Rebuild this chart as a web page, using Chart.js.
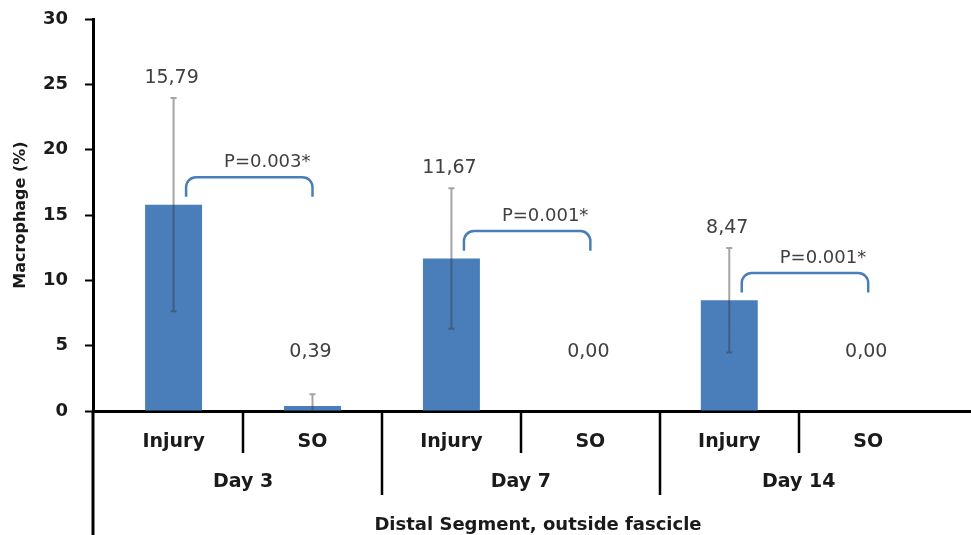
<!DOCTYPE html>
<html lang="en">
<head>
    <meta charset="UTF-8">
    <title>Macrophage - Distal Segment, outside fascicle</title>
    <style>
        html, body { margin: 0; padding: 0; background: #fff; }
        #myChart { display: block; }
    </style>
</head>
<body>
    <canvas id="myChart" width="971" height="535"></canvas>

    <script src="https://cdn.jsdelivr.net/npm/chart.js"></script>
    <script>
        // chart values
        const groups = ['Injury', 'SO', 'Injury', 'SO', 'Injury', 'SO'];
        const days = ['Day 3', 'Day 7', 'Day 14'];
        const means = [15.79, 0.39, 11.67, 0.00, 8.47, 0.00];
        const errors = [8.16, 0.90, 5.38, 0, 4.00, 0];
        const pLabels = ['P=0.003*', 'P=0.001*', 'P=0.001*'];
        const yTitle = 'Macrophage (%)';
        const xTitle = 'Distal Segment, outside fascicle';

        const font = '"DejaVu Sans", "Liberation Sans", sans-serif';
        const barBlue = '#4a7ebb';

        // draws error bars, value labels, p-value brackets and the two-level x axis
        const extras = {
            id: 'extras',
            afterDatasetsDraw(chart) {
                const ctx = chart.ctx;
                const x = chart.scales.x, y = chart.scales.y;
                const bars = chart.getDatasetMeta(0).data;
                ctx.save();

                // error bars
                ctx.strokeStyle = 'rgba(55,55,55,0.45)';
                ctx.lineWidth = 2;
                ctx.beginPath();
                bars.forEach((bar, i) => {
                    if (!errors[i]) return;
                    const top = y.getPixelForValue(means[i] + errors[i]);
                    const low = means[i] - errors[i];
                    const bot = y.getPixelForValue(Math.max(0, low));
                    ctx.moveTo(bar.x, bot);
                    ctx.lineTo(bar.x, top);
                    ctx.moveTo(bar.x - 3, top);
                    ctx.lineTo(bar.x + 3, top);
                    if (low > 0) {
                        ctx.moveTo(bar.x - 3, bot);
                        ctx.lineTo(bar.x + 3, bot);
                    }
                });
                ctx.stroke();

                // value labels
                ctx.font = '19px ' + font;
                ctx.fillStyle = '#404040';
                ctx.textAlign = 'center';
                ctx.textBaseline = 'middle';
                bars.forEach((bar, i) => {
                    const top = y.getPixelForValue(Math.max(means[i] + errors[i], 3));
                    ctx.fillText(means[i].toFixed(2).replace('.', ','), bar.x - 2, top - 20);
                });

                // p-value brackets
                ctx.font = '18px ' + font;
                ctx.strokeStyle = barBlue;
                ctx.lineWidth = 2.5;
                pLabels.forEach((p, d) => {
                    const a = d * 2, b = d * 2 + 1;
                    const x1 = x.getPixelForValue(a + 0.09);
                    const x2 = x.getPixelForValue(b);
                    const yTop = y.getPixelForValue(means[a] + 2.1);
                    const yEnd = y.getPixelForValue(means[a] + 0.6);
                    const r = 10;
                    ctx.beginPath();
                    ctx.moveTo(x1, yEnd);
                    ctx.lineTo(x1, yTop + r);
                    ctx.arcTo(x1, yTop, x1 + r, yTop, r);
                    ctx.lineTo(x2 - r, yTop);
                    ctx.arcTo(x2, yTop, x2, yTop + r, r);
                    ctx.lineTo(x2, yEnd);
                    ctx.stroke();
                    ctx.fillText(p, (x1 + x2) / 2 + 18, yTop - 15);
                });

                ctx.restore();
            },
            afterDraw(chart) {
                const ctx = chart.ctx;
                const x = chart.scales.x;
                const area = chart.chartArea;
                ctx.save();
                ctx.strokeStyle = '#000';

                // y axis runs on down through the category rows
                ctx.lineWidth = 3;
                ctx.beginPath();
                ctx.moveTo(area.left, area.bottom);
                ctx.lineTo(area.left, chart.height);
                ctx.stroke();

                // separators: short between Injury/SO, long between days
                ctx.lineWidth = 2.5;
                ctx.beginPath();
                for (let i = 0; i < groups.length - 1; i++) {
                    const sx = Math.round(x.getPixelForValue(i + 0.5));
                    ctx.moveTo(sx, area.bottom);
                    ctx.lineTo(sx, area.bottom + (i % 2 === 0 ? 42 : 84));
                }
                ctx.stroke();

                ctx.fillStyle = '#1a1a1a';
                ctx.textAlign = 'center';
                ctx.textBaseline = 'middle';
                ctx.font = 'bold 19px ' + font;
                groups.forEach((g, i) => ctx.fillText(g, x.getPixelForValue(i), area.bottom + 31));
                days.forEach((d, k) => ctx.fillText(d, x.getPixelForValue(k * 2 + 0.5), area.bottom + 71));
                ctx.font = 'bold 18px ' + font;
                ctx.fillText(xTitle, (area.left + area.right) / 2 + 6, area.bottom + 114);

                ctx.restore();
            }
        };

        const ctx = document.getElementById('myChart').getContext('2d');
        new Chart(ctx, {
            type: 'bar',
            data: {
                datasets: [{
                    data: means.map((v, i) => ({ x: i, y: v })),
                    backgroundColor: barBlue,
                    barPercentage: 0.41,
                    categoryPercentage: 1
                }]
            },
            options: {
                responsive: false,
                animation: false,
                layout: { padding: { top: 19, right: 0, bottom: 0, left: 0 } },
                plugins: {
                    legend: { display: false },
                    tooltip: { enabled: false }
                },
                scales: {
                    x: {
                        type: 'linear',
                        offset: false,
                        min: -0.58,
                        max: 5.74,
                        ticks: { display: false, stepSize: 1, includeBounds: false },
                        grid: { display: false },
                        border: { display: true, color: '#000', width: 3 },
                        afterFit(scale) { scale.height = 124; }
                    },
                    y: {
                        min: 0,
                        max: 30,
                        ticks: {
                            stepSize: 5,
                            padding: 17,
                            color: '#1a1a1a',
                            font: { family: font, size: 18, weight: 'bold' }
                        },
                        grid: {
                            display: true,
                            drawOnChartArea: false,
                            drawTicks: true,
                            tickLength: 8,
                            tickWidth: 2,
                            color: '#000'
                        },
                        border: { display: true, color: '#000', width: 3 },
                        title: {
                            display: true,
                            text: yTitle,
                            color: '#1a1a1a',
                            font: { family: font, size: 16, weight: 'bold' },
                            padding: { top: 11, bottom: 0 }
                        },
                        afterFit(scale) {
                            scale.width = 93;
                            scale.paddingTop = 0;
                            scale.paddingBottom = 0;
                        }
                    }
                }
            },
            plugins: [extras]
        });
    </script>
</body>
</html>
